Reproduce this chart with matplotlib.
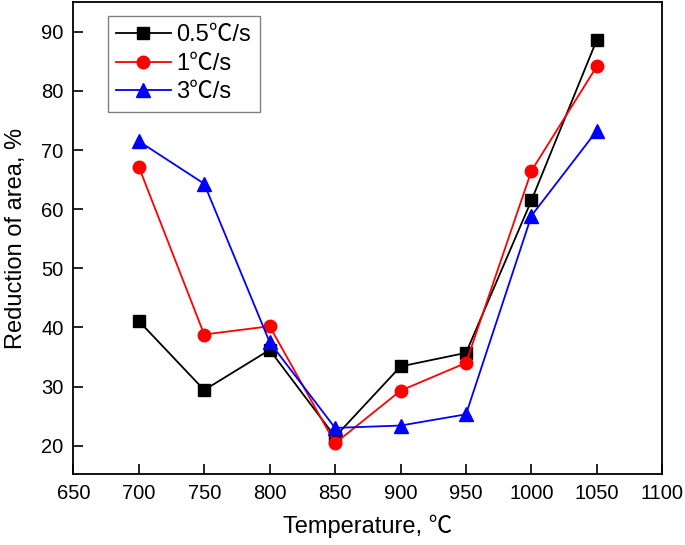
# reduction of area vs temperature for three cooling rates
import numpy as np
import matplotlib.pyplot as plt

plt.rcParams['font.family'] = ['Liberation Sans', 'Noto Sans CJK SC', 'DejaVu Sans']

# data
temps = [700, 750, 800, 850, 900, 950, 1000, 1050]
ra_05 = [41.1, 29.4, 36.2, 21.5, 33.4, 35.7, 61.5, 88.7]
ra_1 = [67.2, 38.8, 40.2, 20.4, 29.3, 34.0, 66.5, 84.2]
ra_3 = [71.5, 64.3, 37.5, 23.0, 23.4, 25.3, 58.9, 73.3]
labels = ['0.5\u2103/s', '1\u2103/s', '3\u2103/s']

fig = plt.figure(figsize=(6.85, 5.45), dpi=100)
ax = fig.add_axes([0.107, 0.1297, 0.860, 0.8661])

ax.plot(temps, ra_05, color='black', marker='s', markersize=8.5, linewidth=1.3, label=labels[0])
ax.plot(temps, ra_1, color='red', marker='o', markersize=9, linewidth=1.3, label=labels[1])
ax.plot(temps, ra_3, color='blue', marker='^', markersize=9.5, linewidth=1.3, label=labels[2])

ax.set_xlim(650, 1100)
ax.set_ylim(15.15, 95)
ax.set_xticks(np.arange(650, 1101, 50))
ax.set_yticks(np.arange(20, 91, 10))
ax.tick_params(direction='in', length=7, width=1.2, labelsize=14.5, pad=7)
for s in ax.spines.values():
    s.set_linewidth(1.3)

ax.set_xlabel('Temperature, \u2103', fontsize=17, labelpad=8)
ax.set_ylabel('Reduction of area, %', fontsize=17, labelpad=10)

leg = ax.legend(loc='upper left', bbox_to_anchor=(0.059, 0.971), fontsize=17,
                fancybox=False, edgecolor='gray', framealpha=1,
                handlelength=2.3, handletextpad=0.25, labelspacing=0.28,
                borderpad=0.35, borderaxespad=0)
leg.get_frame().set_linewidth(1.0)

plt.savefig('out.png', dpi=100)
